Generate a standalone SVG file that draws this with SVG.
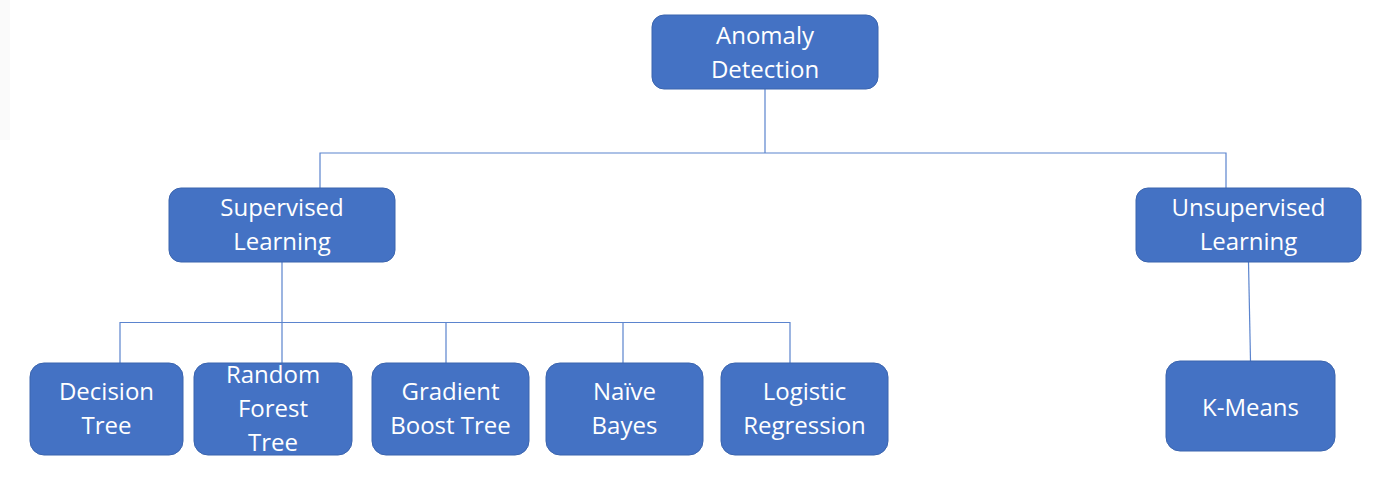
<svg xmlns="http://www.w3.org/2000/svg" width="1378" height="493" viewBox="0 0 1378 493">
<style>
.box{fill:#4472C4;stroke:#3A64AE;stroke-width:1}
.lbl{font-family:"Open Sans","Noto Sans","Liberation Sans",sans-serif;font-size:24px;fill:#FFFFFF;text-anchor:middle}
.conn{stroke:#5B84CE;stroke-width:1.2;fill:none}
</style>
<rect x="0" y="0" width="1378" height="493" fill="#FFFFFF"/>
<rect x="0" y="0" width="10" height="140" fill="#FAFAFA"/>
<g id="connectors">
<path class="conn" d="M765 89 V153 M320 188 V153 H1226 V188"/>
<path class="conn" d="M282 262 V363 M120 363 V322.5 H790 V363 M446 322.5 V363 M623 322.5 V363"/>
<path class="conn" d="M1248.5 262 L1250.5 361"/>
</g>
<g id="anomaly-detection">
<rect class="box" x="652" y="15" width="226" height="74" rx="12"/>
<text class="lbl" x="765" y="44">Anomaly</text>
<text class="lbl" x="765" y="78">Detection</text>
</g>
<g id="supervised-learning">
<rect class="box" x="169" y="188" width="226" height="74" rx="12"/>
<text class="lbl" x="282" y="216">Supervised</text>
<text class="lbl" x="282" y="250">Learning</text>
</g>
<g id="unsupervised-learning">
<rect class="box" x="1136" y="188" width="225" height="74" rx="12"/>
<text class="lbl" x="1248.5" y="216">Unsupervised</text>
<text class="lbl" x="1248.5" y="250">Learning</text>
</g>
<g id="decision-tree">
<rect class="box" x="30" y="363" width="153" height="92" rx="14"/>
<text class="lbl" x="106.5" y="400">Decision</text>
<text class="lbl" x="106.5" y="434">Tree</text>
</g>
<g id="random-forest-tree">
<rect class="box" x="194" y="363" width="158" height="92" rx="14"/>
<text class="lbl" x="273" y="383">Random</text>
<text class="lbl" x="273" y="417">Forest</text>
<text class="lbl" x="273" y="451">Tree</text>
</g>
<g id="gradient-boost-tree">
<rect class="box" x="372" y="363" width="157" height="92" rx="14"/>
<text class="lbl" x="450.5" y="400">Gradient</text>
<text class="lbl" x="450.5" y="434">Boost Tree</text>
</g>
<g id="naive-bayes">
<rect class="box" x="546" y="363" width="157" height="92" rx="14"/>
<text class="lbl" x="624.5" y="400">Naïve</text>
<text class="lbl" x="624.5" y="434">Bayes</text>
</g>
<g id="logistic-regression">
<rect class="box" x="721" y="363" width="167" height="92" rx="14"/>
<text class="lbl" x="804.5" y="400">Logistic</text>
<text class="lbl" x="804.5" y="434">Regression</text>
</g>
<g id="k-means">
<rect class="box" x="1166" y="361" width="169" height="90" rx="14"/>
<text class="lbl" x="1250.5" y="416">K-Means</text>
</g>
</svg>
